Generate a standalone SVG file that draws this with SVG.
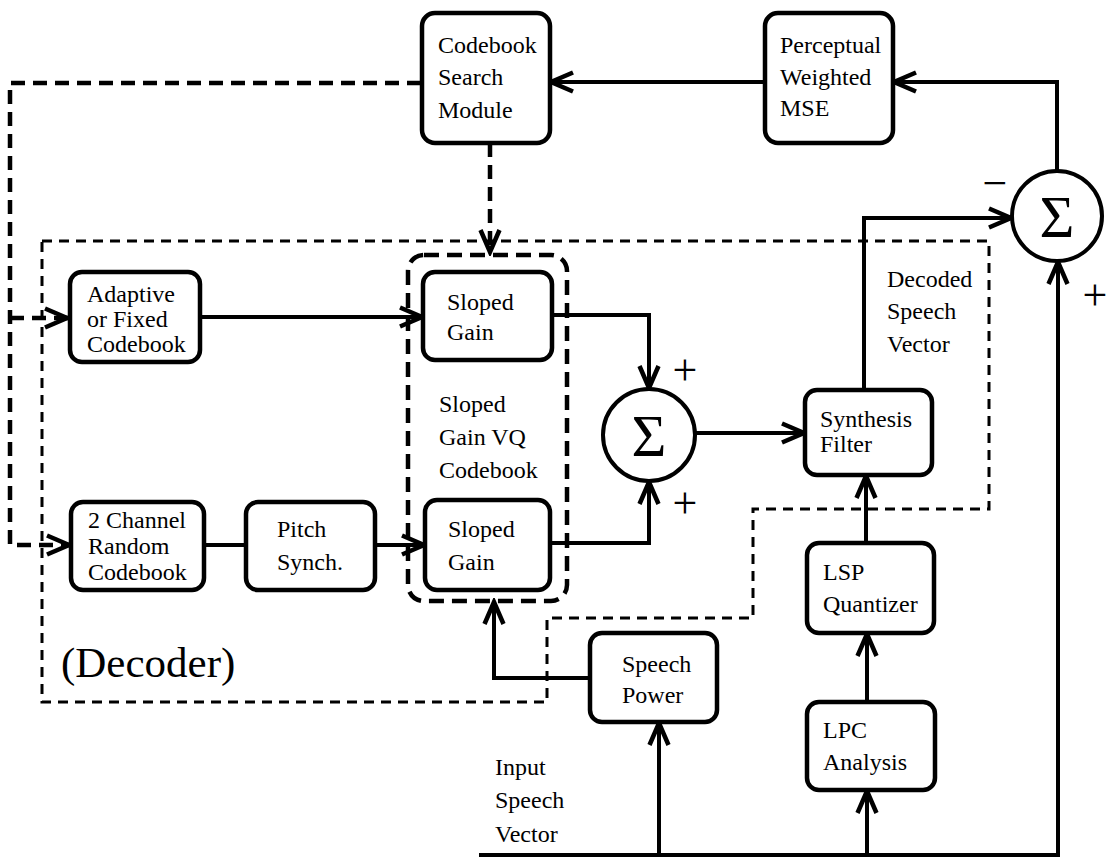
<svg xmlns="http://www.w3.org/2000/svg" width="1113" height="857" viewBox="0 0 1113 857">
  <style>
    .box { fill: #fff; stroke: #000; stroke-width: 4.5; }
    .t { font-family: "Liberation Serif", "Times New Roman", serif; font-size: 24px; fill: #000; }
    .sum { fill: #fff; stroke: #000; stroke-width: 4; }
    .sig { font-family: "Liberation Serif", "Times New Roman", serif; font-size: 60px; fill: #000; text-anchor: middle; }
    .sign { font-family: "Liberation Serif", "Times New Roman", serif; font-size: 44px; fill: #000; text-anchor: middle; }
    .wire { fill: none; stroke: #000; stroke-width: 4; }
    .ctl { fill: none; stroke: #000; stroke-width: 4.5; stroke-dasharray: 14 8; }
    .frame { fill: none; stroke: #000; stroke-width: 3; stroke-dasharray: 10 7; }
    .grp { fill: none; stroke: #000; stroke-width: 4.5; stroke-dasharray: 15 8; }
  </style>
  <defs>
    <marker id="arr" markerUnits="userSpaceOnUse" markerWidth="32" markerHeight="32" viewBox="-28 -14 32 28" refX="1" refY="0" orient="auto">
      <path d="M-22,-9.5 L0,0 L-22,9.5" fill="none" stroke="#000" stroke-width="4.5" stroke-dasharray="none"/>
    </marker>
  </defs>

  <rect width="1113" height="857" fill="#fff"/>

  <!-- decoder boundary and sloped-gain codebook grouping -->
  <g id="decoder-frame">
    <path class="frame" d="M42,241 H989 V509 H753 V618 H547 V702 H42 Z"/>
    <text class="t" x="61" y="677" style="font-size:43px">(Decoder)</text>
  </g>
  <g id="sloped-gain-vq">
    <rect class="grp" x="408" y="255" width="159" height="346" rx="16"/>
    <text class="t" x="439" y="412">Sloped</text>
    <text class="t" x="439" y="445">Gain VQ</text>
    <text class="t" x="439" y="478">Codebook</text>
  </g>

  <!-- connectors -->
  <g id="connectors">
    <!-- search feedback (dashed) -->
    <path class="ctl" d="M421,83 H10 V545 H70" marker-end="url(#arr)"/>
    <path class="ctl" d="M10,318 H68" marker-end="url(#arr)"/>
    <path class="ctl" d="M490,143 V253" marker-end="url(#arr)"/>
    <!-- error path -->
    <path class="wire" d="M1057,171 V82 H893" marker-end="url(#arr)"/>
    <path class="wire" d="M765,82 H550" marker-end="url(#arr)"/>
    <!-- excitation paths -->
    <path class="wire" d="M200,317 H423" marker-end="url(#arr)"/>
    <path class="wire" d="M203,545 H246"/>
    <path class="wire" d="M375,545 H425" marker-end="url(#arr)"/>
    <path class="wire" d="M552,315 H649 V389" marker-end="url(#arr)"/>
    <path class="wire" d="M550,543 H649 V481" marker-end="url(#arr)"/>
    <path class="wire" d="M695,433 H805" marker-end="url(#arr)"/>
    <!-- decoded speech to error summer -->
    <path class="wire" d="M864,390 V218 H1012" marker-end="url(#arr)"/>
    <!-- LPC chain -->
    <path class="wire" d="M866,543 V475" marker-end="url(#arr)"/>
    <path class="wire" d="M867,702 V633" marker-end="url(#arr)"/>
    <path class="wire" d="M867,855 V790" marker-end="url(#arr)"/>
    <!-- speech power to gain -->
    <path class="wire" d="M590,678 H494 V601" marker-end="url(#arr)"/>
    <path class="wire" d="M659,855 V722" marker-end="url(#arr)"/>
    <!-- input speech bus -->
    <path class="wire" d="M479,855 H1058 V261" marker-end="url(#arr)"/>
  </g>

  <!-- blocks -->
  <g id="codebook-search">
    <rect class="box" x="422" y="13" width="128" height="130" rx="13"/>
    <text class="t" x="438" y="53">Codebook</text>
    <text class="t" x="438" y="85">Search</text>
    <text class="t" x="438" y="118">Module</text>
  </g>
  <g id="perceptual-mse">
    <rect class="box" x="765" y="13" width="128" height="130" rx="13"/>
    <text class="t" x="780" y="53">Perceptual</text>
    <text class="t" x="780" y="85">Weighted</text>
    <text class="t" x="780" y="116">MSE</text>
  </g>
  <g id="adaptive-codebook">
    <rect class="box" x="70" y="272" width="130" height="90" rx="12"/>
    <text class="t" x="87" y="302">Adaptive</text>
    <text class="t" x="87" y="327">or Fixed</text>
    <text class="t" x="87" y="352">Codebook</text>
  </g>
  <g id="random-codebook">
    <rect class="box" x="71" y="502" width="133" height="88" rx="12"/>
    <text class="t" x="88" y="528">2 Channel</text>
    <text class="t" x="88" y="554">Random</text>
    <text class="t" x="88" y="580">Codebook</text>
  </g>
  <g id="pitch-synch">
    <rect class="box" x="246" y="502" width="129" height="88" rx="12"/>
    <text class="t" x="277" y="537">Pitch</text>
    <text class="t" x="277" y="570">Synch.</text>
  </g>
  <g id="sloped-gain-1">
    <rect class="box" x="423" y="272" width="129" height="88" rx="12"/>
    <text class="t" x="447" y="310">Sloped</text>
    <text class="t" x="447" y="340">Gain</text>
  </g>
  <g id="sloped-gain-2">
    <rect class="box" x="425" y="500" width="125" height="90" rx="12"/>
    <text class="t" x="448" y="537">Sloped</text>
    <text class="t" x="448" y="570">Gain</text>
  </g>
  <g id="sum-excitation">
    <circle class="sum" cx="649" cy="435" r="46"/>
    <text class="sig" x="649" y="456">Σ</text>
    <text class="sign" x="685" y="385">+</text>
    <text class="sign" x="685" y="518">+</text>
  </g>
  <g id="synthesis-filter">
    <rect class="box" x="805" y="390" width="127" height="85" rx="12"/>
    <text class="t" x="820" y="427">Synthesis</text>
    <text class="t" x="820" y="452">Filter</text>
  </g>
  <g id="decoded-label">
    <text class="t" x="887" y="287">Decoded</text>
    <text class="t" x="887" y="319">Speech</text>
    <text class="t" x="887" y="352">Vector</text>
  </g>
  <g id="sum-error">
    <circle class="sum" cx="1057" cy="216" r="45"/>
    <text class="sig" x="1057" y="237">Σ</text>
    <text class="sign" x="995" y="198">−</text>
    <text class="sign" x="1095" y="310">+</text>
  </g>
  <g id="lsp-quantizer">
    <rect class="box" x="807" y="543" width="127" height="90" rx="12"/>
    <text class="t" x="823" y="580">LSP</text>
    <text class="t" x="823" y="612">Quantizer</text>
  </g>
  <g id="lpc-analysis">
    <rect class="box" x="807" y="702" width="128" height="88" rx="12"/>
    <text class="t" x="823" y="738">LPC</text>
    <text class="t" x="823" y="770">Analysis</text>
  </g>
  <g id="speech-power">
    <rect class="box" x="590" y="633" width="127" height="89" rx="12"/>
    <text class="t" x="622" y="672">Speech</text>
    <text class="t" x="622" y="703">Power</text>
  </g>
  <g id="input-label">
    <text class="t" x="495" y="775">Input</text>
    <text class="t" x="495" y="808">Speech</text>
    <text class="t" x="495" y="842">Vector</text>
  </g>
</svg>
